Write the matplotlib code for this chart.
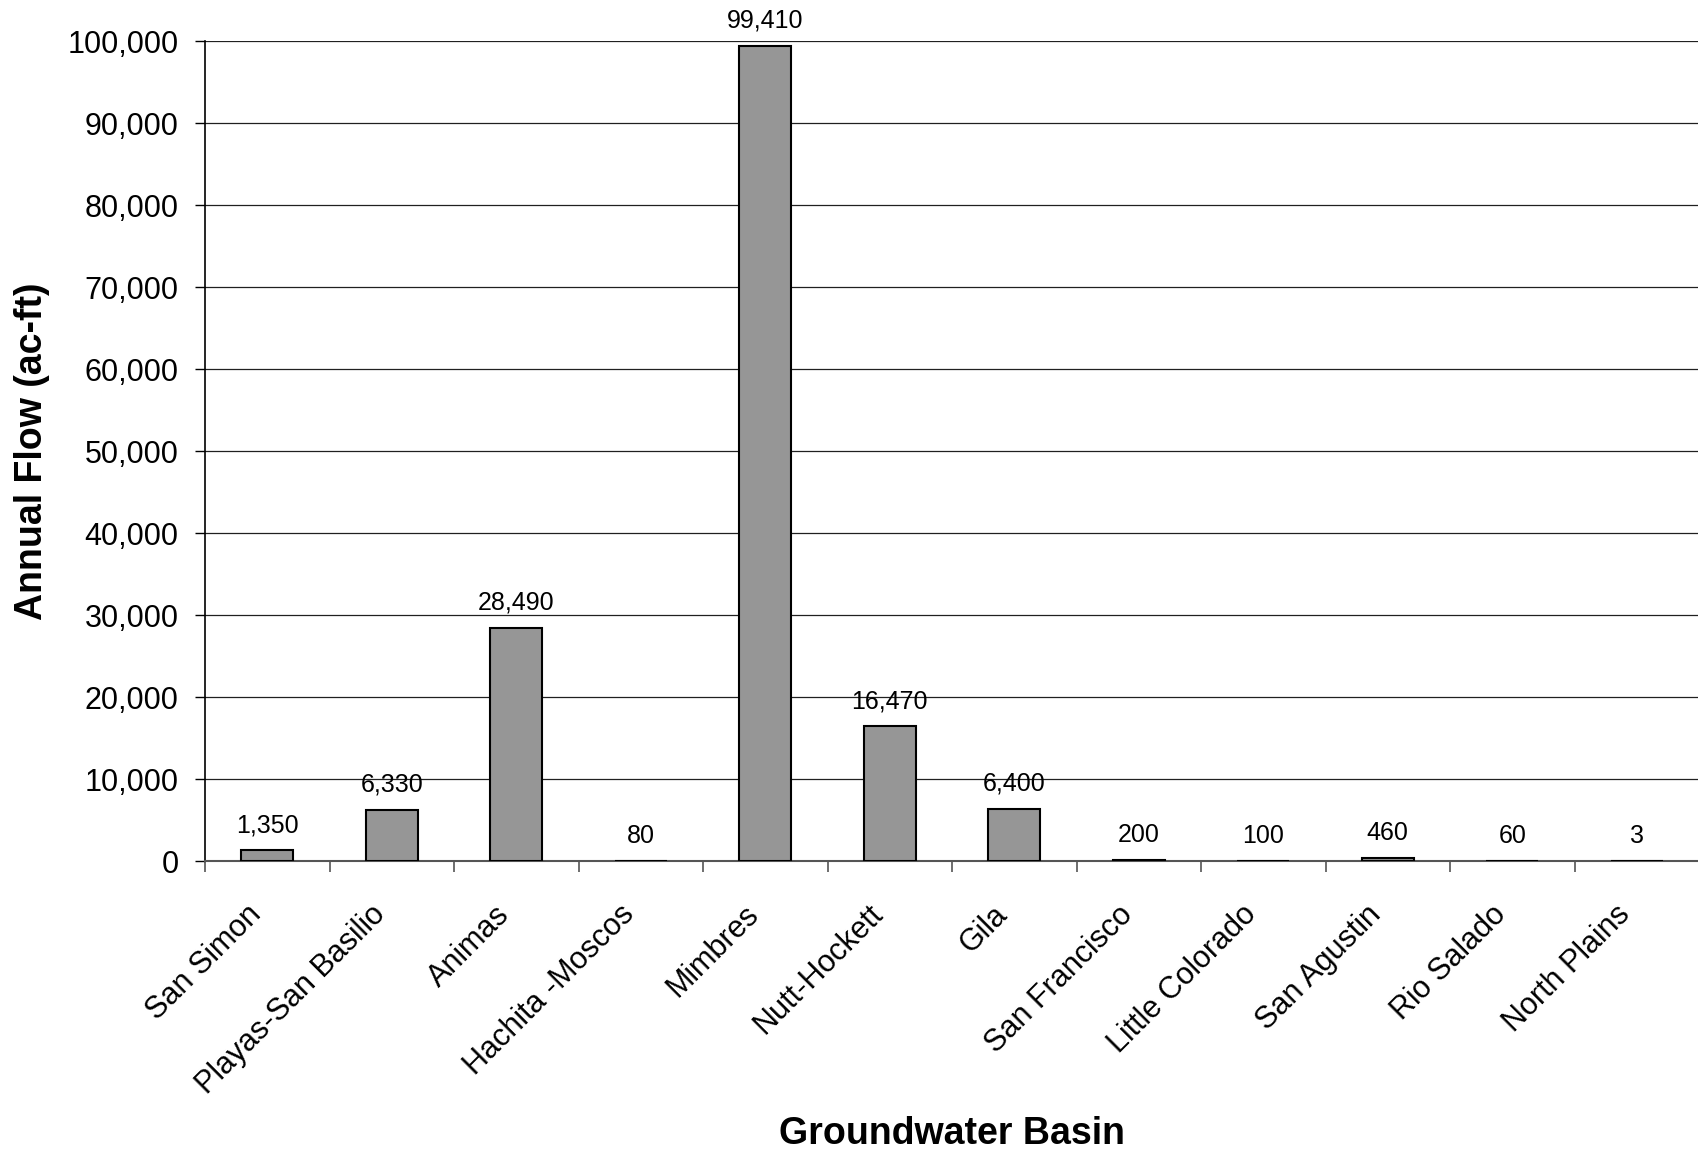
import matplotlib.pyplot as plt
import matplotlib.transforms as mtransforms
import numpy as np
from matplotlib.ticker import FuncFormatter

plt.rcParams['font.family'] = ['Liberation Sans', 'DejaVu Sans']

basins = ['San Simon', 'Playas-San Basilio', 'Animas', 'Hachita -Moscos',
          'Mimbres', 'Nutt-Hockett', 'Gila', 'San Francisco',
          'Little Colorado', 'San Agustin', 'Rio Salado', 'North Plains']
flow = [1350, 6330, 28490, 80, 99410, 16470, 6400, 200, 100, 460, 60, 3]

fig = plt.figure(figsize=(16.99, 11.5), dpi=100)
ax = fig.add_axes([0.1207, 0.2509, 0.8793, 0.7134])

x = np.arange(len(basins))
ax.bar(x, flow, width=0.42, color='#969696', edgecolor='black', linewidth=1.5, zorder=3)

# value labels above each bar
for xi, v in zip(x, flow):
    ax.annotate(f'{v:,}', (xi, v), xytext=(0, 13), textcoords='offset points',
                ha='center', va='baseline', fontsize=18, annotation_clip=False)

ax.set_xlim(-0.5, len(basins) - 0.5)
ax.set_ylim(0, 100000)
ax.set_yticks(np.arange(0, 100001, 10000))
ax.yaxis.set_major_formatter(FuncFormatter(lambda v, p: f'{int(v):,}'))
ax.yaxis.grid(True, color='#202020', linewidth=0.9, zorder=0)
ax.tick_params(axis='y', labelsize=22, length=7, width=1, pad=12, direction='out')

# category labels at centres, tick marks at category boundaries
ax.set_xticks(x)
ax.set_xticklabels(basins, rotation=45, ha='right', va='center',
                   rotation_mode='anchor', fontsize=22)
ax.tick_params(axis='x', which='major', length=0, pad=35)
shift = mtransforms.ScaledTranslation(-11 / 100, 0, fig.dpi_scale_trans)
for lbl in ax.get_xticklabels():
    lbl.set_transform(lbl.get_transform() + shift)
ax.set_xticks(np.arange(-0.5, len(basins), 1.0), minor=True)
ax.tick_params(axis='x', which='minor', length=8, width=1.2, color='#555555', direction='out')

for s in ['top', 'right']:
    ax.spines[s].set_visible(False)
ax.spines['left'].set_color('black')
ax.spines['left'].set_linewidth(1.2)
ax.spines['bottom'].set_color('#555555')
ax.spines['bottom'].set_linewidth(1.5)

ax.set_ylabel('Annual Flow (ac-ft)', fontsize=27, fontweight='bold')
ax.yaxis.set_label_coords(-0.104, 0.5)
ax.set_xlabel('Groundwater Basin', fontsize=27, fontweight='bold', va='top')
ax.xaxis.set_label_coords(0.5, -0.31)

fig.savefig('out.png', dpi=100)
